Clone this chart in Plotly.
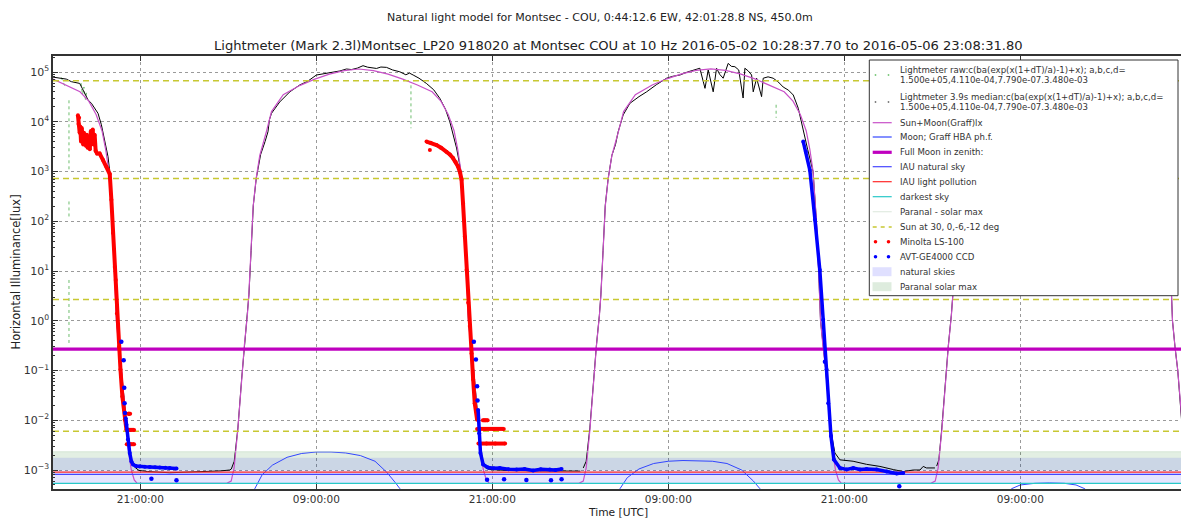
import pandas as pd
import plotly.graph_objects as go

# ---------------- time base (hours after 2016-05-03 00:00 UTC) ----------------
T0 = pd.Timestamp("2016-05-03 00:00:00")
X_START_H, X_END_H = 15.04, 91.96
TICK_H = [21, 33, 45, 57, 69, 81]

# ---------------- Sun+Moon (Graff) model, lux ----------------
sun_d3_h = [15.04, 15.88, 16.88, 17.48, 17.98, 18.38, 18.63, 18.85, 19.08, 19.23, 19.36, 19.53, 19.72, 20.0, 20.18, 20.38, 20.58, 20.78]
sun_d3_lux = [7.2e4, 5.5e4, 4.0e4, 2.6e4, 1.4e4, 6.6e3, 2.8e3, 1.0e3, 1.0e2, 10, 1.0, 0.3, 0.1, 0.01, 2.5e-3, 1.0e-3, 6.3e-4, 5.4e-4]
sun_d4_h = [26.89, 27.19, 27.39, 27.64, 27.89, 28.09, 28.29, 28.39, 28.54, 28.69, 28.89, 29.14, 29.59, 29.94, 30.74, 31.89, 32.89, 33.89, 34.89, 35.89,
            36.89, 37.89, 38.89, 39.89, 40.89, 41.49, 41.99, 42.39, 42.64, 42.86, 43.09, 43.24, 43.37, 43.54, 43.73, 44.01, 44.19, 44.39, 44.59, 44.79]
sun_d4_lux = [5.4e-4, 6.0e-4, 1.1e-3, 6.3e-3, 6.3e-2, 0.32, 1.26, 3.2, 25, 2.0e2, 7.1e2, 2.1e3, 6.3e3, 1.6e4, 3.5e4, 5.4e4, 7.2e4, 9.1e4, 1.07e5, 1.15e5,
              1.07e5, 9.1e4, 7.2e4, 5.5e4, 4.0e4, 2.6e4, 1.4e4, 6.6e3, 2.8e3, 1.0e3, 1.0e2, 10, 1.0, 0.3, 0.1, 0.01, 2.5e-3, 1.0e-3, 6.3e-4, 5.4e-4]
sun_d5_h = [50.9, 51.2, 51.4, 51.65, 51.9, 52.1, 52.3, 52.4, 52.55, 52.7, 52.9, 53.15, 53.6, 53.95, 54.75, 55.9, 56.9, 57.9, 58.9, 59.9,
            60.9, 61.9, 62.9, 63.9, 64.9, 65.5, 66.0, 66.4, 66.65, 66.87, 67.1, 67.25, 67.38, 67.55, 67.74, 68.02, 68.2, 68.4, 68.6, 68.8]
sun_d5_lux = [5.4e-4, 6.0e-4, 1.1e-3, 6.3e-3, 6.3e-2, 0.32, 1.26, 3.2, 25, 2.0e2, 7.2e2, 2.1e3, 6.4e3, 1.6e4, 3.5e4, 5.5e4, 7.3e4, 9.2e4, 1.08e5, 1.16e5,
              1.08e5, 9.2e4, 7.3e4, 5.5e4, 4.0e4, 2.6e4, 1.4e4, 6.6e3, 2.8e3, 1.0e3, 1.0e2, 10, 1.0, 0.3, 0.1, 0.01, 2.5e-3, 1.0e-3, 6.3e-4, 5.4e-4]
sun_d6_h = [74.9, 75.2, 75.4, 75.65, 75.9, 76.1, 76.3, 76.4, 76.55, 76.7, 76.9, 77.15, 77.6, 77.95, 78.75, 79.9, 80.9, 81.9, 82.9, 83.9,
            84.9, 85.9, 86.9, 87.9, 88.9, 89.5, 90.0, 90.4, 90.65, 90.87, 91.1, 91.25, 91.38, 91.55, 91.74, 92.02, 92.2]
sun_d6_lux = [5.4e-4, 6.0e-4, 1.1e-3, 6.3e-3, 6.3e-2, 0.32, 1.26, 3.2, 25, 2.0e2, 7.2e2, 2.1e3, 6.4e3, 1.6e4, 3.5e4, 5.5e4, 7.3e4, 9.2e4, 1.08e5, 1.16e5,
              1.08e5, 9.2e4, 7.3e4, 5.5e4, 4.0e4, 2.6e4, 1.4e4, 6.6e3, 2.8e3, 1.0e3, 1.0e2, 10, 1.0, 0.3, 0.1, 0.01, 2.5e-3]

# ---------------- Moon (Graff HBA phase function), lux ----------------
moon_h = [28.3, 28.8, 29.3, 30.0, 31.0, 32.0, 33.0, 34.0, 35.0, 36.0, 37.0, 37.8, 38.4, 38.7, 39.2, None,
          53.2, 53.7, 54.2, 55.0, 56.0, 57.0, 58.0, 59.0, 60.0, 61.0, 62.0, 62.8, 63.25, 63.7, None,
          79.9, 80.4, 81.0, 82.0, 83.0, 84.0, 84.8, 85.4, 85.9]
moon_lux = [2e-4, 4.2e-4, 8e-4, 1.25e-3, 1.8e-3, 2.15e-3, 2.3e-3, 2.3e-3, 2.2e-3, 1.95e-3, 1.5e-3, 9e-4, 5.5e-4, 4.2e-4, 2e-4, None,
            2e-4, 4.2e-4, 7e-4, 1.05e-3, 1.35e-3, 1.5e-3, 1.55e-3, 1.55e-3, 1.5e-3, 1.35e-3, 1.0e-3, 6e-4, 4.2e-4, 2e-4, None,
            2e-4, 4.2e-4, 5e-4, 5.4e-4, 5.5e-4, 5.4e-4, 5e-4, 4.2e-4, 2e-4]

# ---------------- Lightmeter 3.9 s median, lux ----------------
med_a_h = [15.04, 15.5, 15.95, 16.29, 16.6, 16.86, 17.05, 17.2, 17.43, 17.66, 17.88, 18.11, 18.34, 18.56, 18.79, 18.91, 19.1, 19.25, 19.38, 19.7,
           20.0, 20.2, 20.4, 20.6, 20.9, 21.5, 23.0, 25.0, 26.5, 27.1]
med_a_lux = [7.9e4, 7.6e4, 7.2e4, 6.4e4, 6.2e4, 5.9e4, 4.6e4, 3.7e4, 2.75e4, 2.35e4, 1.85e4, 1.48e4, 8.7e3, 4.3e3, 2.0e3, 1.0e3, 1.0e2, 10, 1.0, 0.1,
             0.01, 3.0e-3, 1.5e-3, 1.15e-3, 9.8e-4, 9.3e-4, 8.8e-4, 9.2e-4, 9.6e-4, 1.0e-3]
med_b_h = [27.2, 27.4, 27.65, 27.9, 28.1, 28.3, 28.4, 28.55, 28.7, 28.9, 29.2, 29.5, 29.7, 29.8, 29.94, 30.5, 31.19, 31.87, 32.4, 33.0,
           33.6, 34.14, 34.6, 35.05, 35.4, 35.8, 36.18, 36.5, 36.8, 37.1, 37.4, 37.78, 38.2, 38.69, 39.1, 39.35, 39.6, 40.0, 40.5, 41.0,
           41.42, 41.8, 42.1, 42.56, 42.86, 43.08, 43.24, 43.37, 43.73, 44.01, 44.2, 44.35, 44.5, 44.8, 46.0, 48.0, 50.0, 51.0]
med_b_lux = [1.05e-3, 1.5e-3, 7.0e-3, 6.5e-2, 0.33, 1.3, 3.3, 26, 2.1e2, 7.3e2, 2.2e3, 4.0e3, 6.3e3, 1.1e4, 1.48e4, 2.5e4, 4.0e4, 5.5e4, 6.5e4, 8.7e4,
             9.3e4, 1.01e5, 1.05e5, 1.15e5, 1.12e5, 1.2e5, 1.34e5, 1.25e5, 1.2e5, 1.18e5, 1.26e5, 1.24e5, 1.1e5, 1.01e5, 8.8e4, 9.5e4, 8.7e4, 7.5e4, 5.9e4, 4.4e4,
             2.95e4, 1.8e4, 1.0e4, 2.96e3, 1.0e3, 1.0e2, 10, 1.0, 0.1, 0.01, 2.8e-3, 1.5e-3, 1.12e-3, 1.02e-3, 9.8e-4, 9.6e-4, 9.4e-4, 9.5e-4]
med_c_h = [51.2, 51.4, 51.65, 51.9, 52.1, 52.3, 52.4, 52.55, 52.7, 52.9, 53.15, 53.4, 53.58, 53.92, 54.38, 55.0, 55.52, 56.2, 56.88, 57.3,
           57.79, 58.3, 58.7, 59.15, 59.5, 59.72, 60.06, 60.29, 60.5, 60.74, 61.08, 61.3, 61.54, 61.8, 62.1, 62.22, 62.45, 62.68, 62.79, 63.02,
           63.36, 63.47, 63.8, 64.15, 64.5, 64.83, 65.2, 65.52, 65.86, 66.2, 66.5, 66.87, 67.1, 67.25, 67.38, 67.74, 68.02, 68.2, 68.36, 68.7,
           69.6, 70.52, 71.43, 72.34, 73.02, 73.7, 74.16, 74.38, 74.6, 75.18]
med_c_lux = [1.1e-3, 1.5e-3, 7.0e-3, 6.5e-2, 0.33, 1.3, 3.3, 26, 2.1e2, 7.3e2, 2.1e3, 3.5e3, 6.3e3, 1.37e4, 2.35e4, 3.2e4, 4.0e4, 5.6e4, 7.5e4, 8.2e4,
             8.7e4, 1.0e5, 1.1e5, 1.19e5, 4.7e4, 1.1e5, 4.0e4, 1.19e5, 9.0e4, 7.5e4, 1.49e5, 1.3e5, 1.28e5, 1.1e5, 3.0e4, 1.19e5, 1.05e5, 8.7e4, 4.0e4, 7.5e4,
             3.2e4, 7.5e4, 8.0e4, 7.5e4, 6.3e4, 5.0e4, 4.3e4, 3.45e4, 1.87e4, 6.3e3, 2.8e3, 1.0e3, 1.0e2, 10, 1.0, 0.1, 0.01, 4.0e-3, 2.2e-3, 1.6e-3,
             1.5e-3, 1.3e-3, 1.18e-3, 1.02e-3, 9.3e-4, 1.0e-3, 1.0e-3, 1.18e-3, 1.1e-3, 1.1e-3]
med_d_h = [75.3, 75.45, 75.65, 75.9, 76.1, 76.3, 76.4, 76.55, 76.7, 76.9, 77.6, 78.0, 79.0, 80.0, 81.0, 82.0, 83.0, 84.0, 85.0, 86.0,
           87.0, 88.0, 89.0, 89.5, 90.0, 90.4, 90.65, 90.87, 91.1, 91.25, 91.38, 91.55, 91.74, 92.0]
med_d_lux = [1.2e-3, 1.6e-3, 7.0e-3, 6.5e-2, 0.33, 1.3, 3.3, 27, 2.1e2, 7.3e2, 6.5e3, 1.6e4, 4.0e4, 6.0e4, 8.0e4, 9.5e4, 1.1e5, 1.2e5, 1.1e5, 9.5e4,
             7.5e4, 5.6e4, 4.0e4, 2.6e4, 1.4e4, 6.6e3, 2.8e3, 1.0e3, 1.0e2, 10, 1.0, 0.3, 0.1, 0.01]

# ---------------- Lightmeter raw (visible drop-outs), lux ----------------
raw_h = [15.6, 15.72, 15.85, None, 16.13, 16.13, None, 16.13, 16.13, None, 16.13, 16.13, None,
         16.95, 17.05, 17.15, 17.25, 17.35, None, 39.45, 39.45, None, 64.35, 64.35]
raw_lux = [7.8e4, 6.2e4, 5.2e4, None, 2.7e4, 1.0e3, None, 2.5e2, 1.2e2, None, 6.6, 0.35, None,
           6.0e4, 3.5e4, 5.0e4, 2.8e4, 4.2e4, None, 5.4e4, 7.4e3, None, 2.2e4, 1.2e4]

# ---------------- Minolta LS-100, lux ----------------
minolta_h = [16.74, 16.78, 16.82, 16.86, 16.9, 16.95, 17.0, 17.05, 17.1, 17.15, 17.2, 17.28, 17.35, 17.4, 17.48, 17.55, 17.62, 17.68, 17.75, 17.8,
             17.88, 17.95, 18.05, 18.22, 18.45, 18.68, 18.8, 18.91, 19.02, 19.13, 19.25, 19.32, 19.4, 19.54, 19.64, 19.77, 19.93, 20.05, None,
             20.07, 20.32, 20.57, None, 20.07, 20.32, 20.57, None, 20.17, 20.22, 20.3, None,
             40.51, 40.8, 41.19, 41.5, 41.87, 42.1, 42.32, 42.5, 42.66, 42.8, 42.9, 43.0, 43.12, 43.24, 43.35, 43.46, 43.58, 43.69, 43.8, 43.96, None,
             43.96, 44.5, 45.1, 45.78, None, 44.05, 44.6, 45.2, 45.87, None, 44.35, 44.5, 44.68, None, 40.74]
minolta_lux = [1.35e4, 9.0e3, 1.2e4, 6.0e3, 8.0e3, 4.0e3, 7.5e3, 5.0e3, 3.5e3, 6.0e3, 4.0e3, 3.3e3, 5.5e3, 3.0e3, 4.5e3, 2.8e3, 6.5e3, 4.0e3, 7.0e3, 3.5e3,
               5.5e3, 2.6e3, 2.3e3, 2.3e3, 1.7e3, 1.26e3, 1.1e3, 8.9e2, 2.7e2, 58, 12, 6.6, 1.4, 0.3, 0.105, 0.03, 0.0102, 6.4e-3, None,
               6.4e-3, 6.4e-3, 6.4e-3, None, 3.3e-3, 3.3e-3, 3.3e-3, None, 1.35e-2, 1.35e-2, 1.35e-2, None,
               4.0e3, 3.8e3, 3.4e3, 3.0e3, 2.5e3, 2.2e3, 1.86e3, 1.55e3, 1.26e3, 9.5e2, 6.8e2, 2.3e2, 49, 10.5, 2.3, 0.78, 0.22, 0.066, 0.022, 0.0102, None,
               6.7e-3, 6.7e-3, 6.7e-3, 6.7e-3, None, 3.4e-3, 3.4e-3, 3.4e-3, 3.4e-3, None, 1.0e-2, 1.0e-2, 1.0e-2, None, 2.7e3]

# ---------------- AVT-GE4000 CCD, lux ----------------
# sparse readings (single dots)
ccd_sparse_h = [19.70, 19.86, 19.9, 19.92, 19.95, 43.74, 43.88, 43.96, 43.99, 67.68, 21.75, 23.46, 44.64, 45.8, 47.32, 49.0, 49.72, 72.75]
ccd_sparse_lux = [0.38, 0.16, 0.045, 0.022, 0.014, 0.38, 0.166, 0.048, 0.025, 0.15, 6.7e-4, 6.2e-4, 6.4e-4, 6.5e-4, 6.3e-4, 6.2e-4, 6.5e-4, 4.7e-4]
# dense readings (continuous trail of dots)
ccd_h = [20.0, 20.05, 20.15, 20.27, 20.39, 20.5, 20.7, 20.95, 21.3, 21.64, 22.0, 22.32, 22.7, 23.0, 23.46, None,
         44.03, 44.1, 44.19, 44.37, 44.71, 45.1, 45.51, 46.1, 46.65, 47.2, 47.78, 48.3, 48.92, 49.3, 49.72, None,
         66.2, 66.38, 66.65, 67.0, 67.33, 67.56, 67.79, 67.9, 68.09, 68.29, 68.7, 69.16, 69.61, 70.07, 70.52, 71.2, 71.89, 72.57, 73.02]
ccd_lux = [0.011, 8.1e-3, 4.1e-3, 2.2e-3, 1.48e-3, 1.29e-3, 1.2e-3, 1.17e-3, 1.16e-3, 1.15e-3, 1.13e-3, 1.12e-3, 1.11e-3, 1.1e-3, 1.07e-3, None,
           0.016, 5.5e-3, 2.2e-3, 1.29e-3, 1.12e-3, 1.08e-3, 1.1e-3, 1.04e-3, 1.02e-3, 1.05e-3, 9.8e-4, 1.03e-3, 1.02e-3, 1.0e-3, 1.05e-3, None,
           4.0e3, 2.5e3, 1.07e3, 107, 10.5, 1.05, 0.105, 0.022, 4.8e-3, 1.62e-3, 1.1e-3, 1.02e-3, 1.1e-3, 1.02e-3, 1.05e-3, 1.02e-3, 9.3e-4, 8.5e-4, 8.7e-4]

# ---------------- reference levels, lux ----------------
full_moon_zenith = 0.27
iau_natural_sky = 8.2e-4
iau_light_pollution = 9.1e-4
darkest_sky = 5.4e-4
sun_levels = [6.7e4, 7.2e2, 2.68, 6.0e-3]          # sun at 30, 0, -6, -12 deg
natural_skies_band = [5.4e-4, 1.77e-3]
paranal_band = [1.0e-3, 2.33e-3]

# ---------------- labels ----------------
ytick_vals = [1e-3, 1e-2, 1e-1, 1e0, 1e1, 1e2, 1e3, 1e4, 1e5]
ytick_text = ["10<sup>\u22123</sup>", "10<sup>\u22122</sup>", "10<sup>\u22121</sup>", "10<sup>0</sup>", "10<sup>1</sup>",
              "10<sup>2</sup>", "10<sup>3</sup>", "10<sup>4</sup>", "10<sup>5</sup>"]
suptitle = "Natural light model for Montsec - COU, 0:44:12.6 EW, 42:01:28.8 NS, 450.0m"
title = "Lightmeter (Mark 2.3l)Montsec_LP20 918020 at Montsec COU at 10 Hz 2016-05-02 10:28:37.70 to 2016-05-06 23:08:31.80"
legend_labels = [
    ["Lightmeter raw:c(ba(exp(x(1+dT)/a)-1)+x); a,b,c,d=", "1.500e+05,4.110e-04,7.790e-07.3.480e-03"],
    ["Lightmeter 3.9s median:c(ba(exp(x(1+dT)/a)-1)+x); a,b,c,d=", "1.500e+05,4.110e-04,7.790e-07.3.480e-03"],
    ["Sun+Moon(Graff)lx"], ["Moon; Graff HBA ph.f."], ["Full Moon in zenith:"], ["IAU natural sky"],
    ["IAU light pollution"], ["darkest sky"], ["Paranal - solar max"], ["Sun at 30, 0,-6,-12 deg"],
    ["Minolta LS-100"], ["AVT-GE4000 CCD"], ["natural skies"], ["Paranal solar max"],
]


def to_time(hours):
    return [None if h is None else T0 + pd.Timedelta(hours=h) for h in hours]


XS, XE = to_time([X_START_H, X_END_H])


def hline(v):
    return [XS, XE], [v, v]


fig = go.Figure()

# bands
for band, col in [(paranal_band, "rgba(0,110,0,0.11)"), (natural_skies_band, "rgba(0,0,255,0.10)")]:
    fig.add_trace(go.Scatter(x=[XS, XE, XE, XS, XS], y=[band[0], band[0], band[1], band[1], band[0]],
                             fill="toself", fillcolor=col, mode="lines", line=dict(width=0), hoverinfo="skip"))

# raw + median lightmeter
fig.add_trace(go.Scatter(x=to_time(raw_h), y=raw_lux, mode="lines",
                         line=dict(color="rgb(110,190,110)", width=1, dash="dot")))
fig.add_trace(go.Scatter(x=to_time(med_a_h + med_b_h + [None] + med_c_h + [None] + med_d_h),
                         y=med_a_lux + med_b_lux + [None] + med_c_lux + [None] + med_d_lux,
                         mode="lines", line=dict(color="black", width=1)))
# model
fig.add_trace(go.Scatter(x=to_time(sun_d3_h + sun_d4_h + sun_d5_h + sun_d6_h),
                         y=sun_d3_lux + sun_d4_lux + sun_d5_lux + sun_d6_lux,
                         mode="lines", line=dict(color="rgb(200,80,200)", width=1.2)))
fig.add_trace(go.Scatter(x=to_time(moon_h), y=moon_lux, mode="lines", line=dict(color="rgb(50,70,255)", width=1)))

# reference levels
x, y = hline(full_moon_zenith)
fig.add_trace(go.Scatter(x=x, y=y, mode="lines", line=dict(color="#bf00bf", width=3.2)))
x, y = hline(iau_natural_sky)
fig.add_trace(go.Scatter(x=x, y=y, mode="lines", line=dict(color="rgb(70,70,255)", width=1.2)))
x, y = hline(iau_light_pollution)
fig.add_trace(go.Scatter(x=x, y=y, mode="lines", line=dict(color="rgb(255,40,40)", width=1.2)))
x, y = hline(darkest_sky)
fig.add_trace(go.Scatter(x=x, y=y, mode="lines", line=dict(color="rgb(40,200,200)", width=1.2)))
x, y = hline(paranal_band[1])
fig.add_trace(go.Scatter(x=x, y=y, mode="lines", line=dict(color="rgba(200,220,200,0.6)", width=1)))
sx, sy = [], []
for v in sun_levels:
    x, y = hline(v)
    sx += x + [None]
    sy += y + [None]
fig.add_trace(go.Scatter(x=sx, y=sy, mode="lines", line=dict(color="rgb(200,200,50)", width=1.5, dash="6px,4px")))

# Minolta & CCD
fig.add_trace(go.Scatter(x=to_time(minolta_h), y=minolta_lux, mode="lines+markers",
                         line=dict(color="rgb(255,0,0)", width=4), marker=dict(color="rgb(255,0,0)", size=4)))
fig.add_trace(go.Scatter(x=to_time(ccd_h), y=ccd_lux, mode="lines+markers",
                         line=dict(color="rgb(0,0,255)", width=3.5), marker=dict(color="rgb(0,0,255)", size=4)))
fig.add_trace(go.Scatter(x=to_time(ccd_sparse_h), y=ccd_sparse_lux, mode="markers",
                         marker=dict(color="rgb(0,0,255)", size=4.5)))

# ---------------- layout ----------------
L, R, T, B = 53, 1181, 56, 489


def px(v):
    return (v - L) / (R - L)


def py(v):
    return (B - v) / (B - T)


minor_vals = [m * 10 ** e for e in range(-4, 6) for m in range(2, 10)]

fig.update_layout(
    width=1181, height=519,
    margin=dict(l=L, r=1181 - R, t=T, b=519 - B, autoexpand=False),
    plot_bgcolor="white", paper_bgcolor="white", showlegend=False,
    font=dict(family="DejaVu Sans", color="#333"),
    xaxis=dict(type="date", range=[XS, XE], tickvals=to_time(TICK_H), tickformat="%H:%M:%S",
               ticks="inside", ticklen=5, tickcolor="#333", showline=True, linecolor="#333", linewidth=1.5,
               mirror="ticks", showgrid=True, gridcolor="#9a9a9a", griddash="dot", gridwidth=1,
               tickfont=dict(size=10.5, color="#333"), zeroline=False, automargin=False),
    yaxis=dict(type="log", range=[-3.382, 5.322], tickvals=ytick_vals, ticktext=ytick_text,
               ticks="inside", ticklen=5, tickcolor="#333", showline=True, linecolor="#333", linewidth=1.5,
               showgrid=True, gridcolor="#9a9a9a", griddash="dot", gridwidth=1,
               tickfont=dict(size=11, color="#333"), zeroline=False, automargin=False,
               minor=dict(tickvals=minor_vals, ticks="inside", ticklen=2.5, tickcolor="#333", showgrid=False)),
)

ann = [
    dict(text=suptitle, x=px(600), y=py(17), font=dict(size=11, color="#222")),
    dict(text=title, x=px(618), y=py(45), font=dict(size=13.1, color="#222")),
    dict(text="Horizontal Illuminance[lux]", x=px(15), y=0.5, textangle=-90, font=dict(size=11.5, color="#222")),
    dict(text="Time [UTC]", x=px(618), y=py(512), font=dict(size=10.7, color="#222")),
]
for a in ann:
    a.update(xref="paper", yref="paper", showarrow=False, xanchor="center", yanchor="middle")
    fig.add_annotation(**a)

# ---------------- legend (drawn box) ----------------
shapes = [dict(type="rect", xref="paper", yref="paper", x0=px(869.3), x1=px(1178), y0=py(295.7), y1=py(60),
               fillcolor="white", line=dict(color="#333", width=1), layer="above")]
row_y = [[69.7, 80.3], [96.7, 107.3], [122.7], [137], [152.3], [166.7], [181.7], [196.7], [211.7], [227],
         [241.7], [256.7], [271.7], [286.7]]
sym_x0, sym_x1 = 872.7, 891.7


def leg_line(yc, color, width, dash="solid"):
    shapes.append(dict(type="line", xref="paper", yref="paper", x0=px(sym_x0), x1=px(sym_x1), y0=py(yc), y1=py(yc),
                       line=dict(color=color, width=width, dash=dash), layer="above"))


def leg_dots(yc, color, r):
    for cx in (875.5, 888.5):
        shapes.append(dict(type="circle", xref="paper", yref="paper", x0=px(cx - r), x1=px(cx + r),
                           y0=py(yc + r), y1=py(yc - r), fillcolor=color, line=dict(width=0), layer="above"))


def leg_patch(yc, color):
    shapes.append(dict(type="rect", xref="paper", yref="paper", x0=px(872.5), x1=px(891.5), y0=py(yc + 4.5),
                       y1=py(yc - 4.5), fillcolor=color, line=dict(width=0), layer="above"))


leg_dots(75, "rgb(120,200,120)", 0.9)
leg_dots(102, "#777", 0.9)
leg_line(122.7, "rgb(200,80,200)", 1.2)
leg_line(137, "rgb(50,70,255)", 1.2)
leg_line(152.3, "#bf00bf", 3.2)
leg_line(166.7, "rgb(70,70,255)", 1.2)
leg_line(181.7, "rgb(255,40,40)", 1.2)
leg_line(196.7, "rgb(40,200,200)", 1.2)
leg_line(211.7, "rgb(225,235,225)", 1.2)
leg_line(227, "rgb(200,200,50)", 1.5, "4px,4px")
leg_dots(241.7, "rgb(255,0,0)", 1.8)
leg_dots(256.7, "rgb(0,0,255)", 1.8)
leg_patch(271.7, "rgba(0,0,255,0.12)")
leg_patch(286.7, "rgba(0,110,0,0.13)")
fig.update_layout(shapes=shapes)

for labels, ys in zip(legend_labels, row_y):
    for txt, yc in zip(labels, ys):
        fig.add_annotation(text=txt, xref="paper", yref="paper", x=px(897.5), y=py(yc), showarrow=False,
                           xanchor="left", yanchor="middle", font=dict(size=8.6, color="#333"))

fig.write_html("out.html", config={"displayModeBar": False},
               post_script="document.body.style.margin='0px';document.body.style.overflow='hidden';")
